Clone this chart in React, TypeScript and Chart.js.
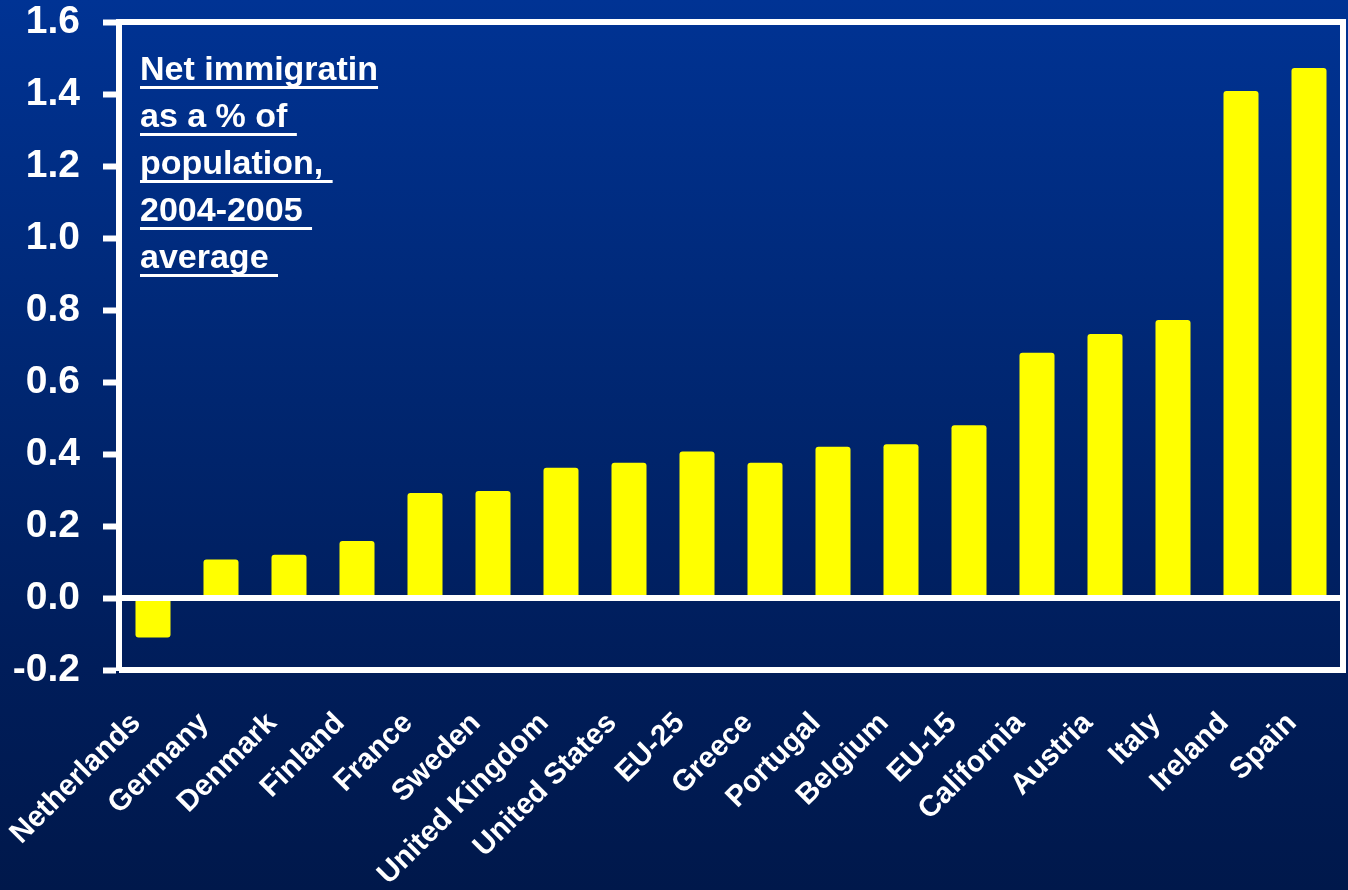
import React, { useEffect, useRef } from "react";
import { Chart, registerables } from "chart.js";

Chart.register(...registerables);

const categories = [
  "Netherlands", "Germany", "Denmark", "Finland", "France", "Sweden",
  "United Kingdom", "United States", "EU-25", "Greece", "Portugal", "Belgium",
  "EU-15", "California", "Austria", "Italy", "Ireland", "Spain",
];
const values = [
  -0.11, 0.107, 0.12, 0.158, 0.292, 0.297, 0.362, 0.376, 0.407, 0.376, 0.42,
  0.427, 0.48, 0.681, 0.733, 0.772, 1.408, 1.472,
];
const yMin = -0.2;
const yMax = 1.6;
const yStep = 0.2;
const titleLines = ["Net immigratin", "as a % of ", "population, ", "2004-2005 ", "average "];

const FONT = "'Liberation Sans', Arial, Helvetica, sans-serif";

const framePlugin = {
  id: "frame",
  afterDatasetsDraw(chart: any) {
    const { ctx, chartArea, scales } = chart;
    const { left, right, top, bottom } = chartArea;
    const zero = scales.y.getPixelForValue(0);
    ctx.save();
    ctx.strokeStyle = "#ffffff";
    ctx.lineWidth = 6;
    ctx.lineCap = "butt";
    ctx.beginPath();
    ctx.moveTo(left, top);
    ctx.lineTo(right + 3, top);
    ctx.moveTo(right, top);
    ctx.lineTo(right, bottom);
    ctx.moveTo(left, bottom);
    ctx.lineTo(right + 3, bottom);
    ctx.moveTo(left, zero);
    ctx.lineTo(right, zero);
    ctx.stroke();
    ctx.restore();
  },
};

export default function App() {
  const canvasRef = useRef<HTMLCanvasElement>(null);

  useEffect(() => {
    if (!canvasRef.current) return;
    const chart = new Chart(canvasRef.current, {
      type: "bar",
      data: {
        labels: categories,
        datasets: [
          {
            data: values,
            backgroundColor: "#ffff00",
            borderWidth: 0,
            borderRadius: 3,
            borderSkipped: false,
            barPercentage: 0.515,
            categoryPercentage: 1,
          },
        ],
      },
      options: {
        animation: false,
        responsive: false,
        maintainAspectRatio: false,
        layout: { padding: { top: 0, right: 5, left: 0, bottom: 0 } },
        plugins: {
          legend: { display: false },
          tooltip: { enabled: false },
          title: { display: false },
        },
        scales: {
          x: {
            grid: { display: false },
            border: { display: false },
            ticks: {
              color: "#ffffff",
              autoSkip: false,
              maxRotation: 45,
              minRotation: 45,
              padding: 28,
              labelOffset: -17,
              font: { family: FONT, size: 29.5, weight: "bold" },
            },
            afterFit(scale: any) {
              scale.height = 220;
              scale.paddingLeft = 0;
              scale.paddingRight = 0;
            },
          },
          y: {
            min: yMin,
            max: yMax,
            ticks: {
              stepSize: yStep,
              color: "#ffffff",
              padding: 23,
              font: { family: FONT, size: 39, weight: "bold", lineHeight: 1.12 },
              callback: (v: any) => Number(v).toFixed(1),
            },
            grid: {
              drawOnChartArea: false,
              drawTicks: true,
              tickLength: 16,
              tickColor: "#ffffff",
              tickWidth: 6,
            },
            border: { display: true, color: "#ffffff", width: 6 },
            afterFit(scale: any) {
              scale.width = 119;
              scale.paddingTop = 22;
              scale.paddingBottom = 0;
            },
          },
        },
      },
      plugins: [framePlugin],
    });
    return () => chart.destroy();
  }, []);

  return (
    <div
      style={{
        position: "fixed",
        left: 0,
        top: 0,
        width: 1348,
        height: 890,
        background: "linear-gradient(180deg, #003394 0%, #002670 45%, #001d5a 75%, #00184b 100%)",
        overflow: "hidden",
      }}
    >
      <canvas ref={canvasRef} width={1348} height={890} style={{ position: "absolute", left: 0, top: 0 }} />
      <div
        style={{
          position: "absolute",
          left: 140,
          top: 45,
          color: "#ffffff",
          fontFamily: FONT,
          fontWeight: "bold",
          fontSize: 34,
          lineHeight: "47px",
          whiteSpace: "pre",
        }}
      >
        {titleLines.map((l, i) => (
          <div key={i}>
            <span
              style={{
                textDecoration: "underline",
                textDecorationThickness: "3px",
                textUnderlineOffset: "6px",
                textDecorationSkipInk: "none",
              }}
            >
              {l}
            </span>
          </div>
        ))}
      </div>
    </div>
  );
}
